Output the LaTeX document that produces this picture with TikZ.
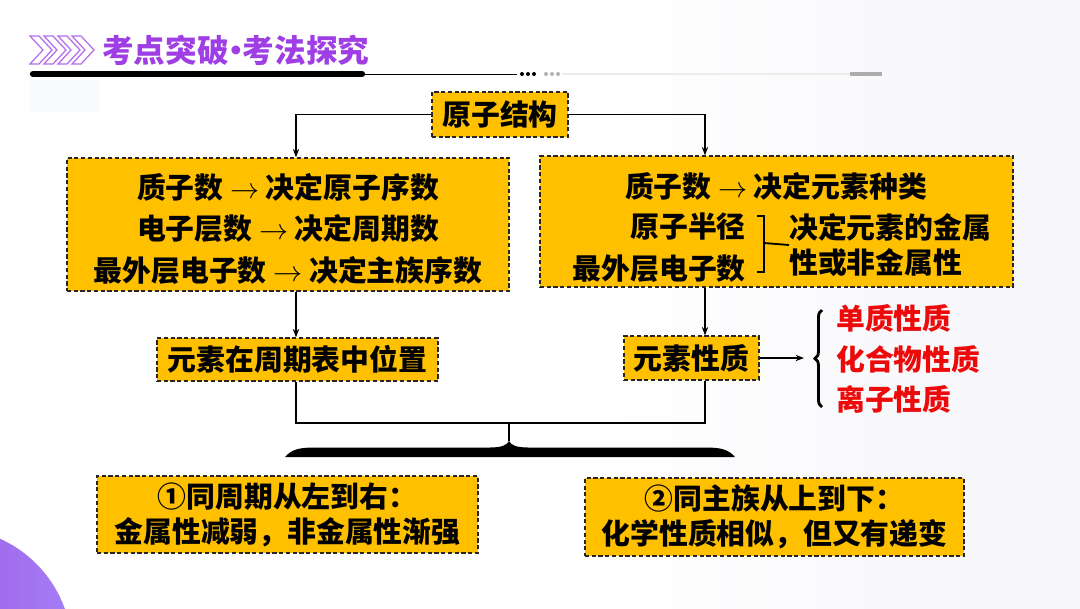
\documentclass[tikz,border=0pt]{standalone}
\usepackage{fontspec}
\setmainfont{Noto Sans CJK SC}
\usetikzlibrary{arrows.meta,decorations.pathreplacing}

\definecolor{boxfill}{RGB}{255,192,0}
\definecolor{headpurple}{RGB}{158,62,228}
\definecolor{propred}{RGB}{236,10,10}
\definecolor{blobleft}{RGB}{150,70,220}
\definecolor{blobright}{RGB}{165,125,245}
\definecolor{paleblue}{RGB}{248,250,253}

\tikzset{
  txt/.style={inner sep=0pt, font=\fontsize{20.5}{29.8}\selectfont\bfseries},
  dashbox/.style={txt, draw=black!85, fill=boxfill, dash pattern=on 3pt off 1.8pt,
    line width=0.9pt, align=center},
  conn/.style={line width=0.9pt},
  arr/.style={conn, -{Stealth[length=6pt,width=4.5pt]}}
}

\begin{document}
\begin{tikzpicture}[x=0.025cm, y=-0.025cm]
\useasboundingbox (0,0) rectangle (1080,608);

% background
\fill[white] (0,0) rectangle (1080,608);
\shade[left color=white, right color={rgb,255:red,245;green,245;blue,250}] (600,0) rectangle (1080,608);
\fill[paleblue] (30,80) rectangle (100,112);
\shade[left color=blobleft, right color=blobright] (-50,650) circle (122);

% heading
\foreach \cx in {30,44,58,72}
  \draw[headpurple!75, line width=0.9pt] (\cx,36) -- (\cx+9,36) -- (\cx+22,50) -- (\cx+9,64) -- (\cx,64) -- (\cx+13,50) -- cycle;
\node[txt, font=\fontsize{22.5}{26}\selectfont\bfseries, text=headpurple, anchor=west] (title) at (102,50)
  {考点突破\kern-0.28em•\kern-0.28em考法探究};
\draw[line width=4.5pt, line cap=round] (33,74) -- (362,74);
\draw[line width=0.6pt] (362,74) -- (517,74);
\foreach \dx in {522,528,534}
  \fill (\dx,74) circle (2);
\foreach \dx in {546,552,558}
  \fill[gray!60] (\dx,74) circle (2);
\draw[gray!15, line width=0.8pt] (562,74) -- (850,74);
\draw[gray!65, line width=2.5pt] (850,74) -- (882,74);

% top box
\node[dashbox, minimum width=3.4cm, minimum height=1.125cm] (struct) at (500,114.5) {原子结构};

% left big box
\node[dashbox, minimum width=11.05cm, minimum height=3.325cm] (numL) at (288,224.5) {};
\node[txt, align=center] (numLtext) at (288,229)
  {质子数 $\rightarrow$ 决定原子序数\\电子层数 $\rightarrow$ 决定周期数\\最外层电子数 $\rightarrow$ 决定主族序数};

% right big box
\node[dashbox, minimum width=11.825cm, minimum height=3.275cm] (numR) at (776.5,221.5) {};
\node[txt] (kind) at (776,186) {质子数 $\rightarrow$ 决定元素种类};
\node[txt, anchor=east] (radius) at (746,227) {原子半径};
\node[txt, anchor=east] (outer) at (746,269) {最外层电子数};
\node[txt, anchor=west, align=left, font=\fontsize{20.5}{25.5}\selectfont\bfseries] (metal) at (789,245)
  {决定元素的金属\\性或非金属性};
\draw[line width=1.3pt] (757,216) -- (764,216) -- (764,272) -- (757,272);
\draw[line width=1.3pt] (764,243) -- (metal.west);

% middle row
\node[dashbox, minimum width=7.025cm, minimum height=1.075cm] (pos) at (297.5,359.5) {元素在周期表中位置};
\node[dashbox, minimum width=3.375cm, minimum height=1.1cm] (prop) at (691.5,358) {元素性质};
\node[txt, text=propred, anchor=west, align=left, font=\fontsize{20.5}{29}\selectfont\bfseries] (props) at (836,359)
  {单质性质\\化合物性质\\离子性质};
\draw[decorate, decoration={brace, amplitude=5pt}, line width=2pt] (822,407) -- (822,310);

% bottom boxes
\node[dashbox, minimum width=9.525cm, minimum height=1.925cm, font=\fontsize{20.5}{24.8}\selectfont\bfseries] (rule1) at (287.5,514.5)
  {①同周期从左到右：\\金属性减弱，非金属性渐强};
\node[dashbox, minimum width=9.475cm, minimum height=1.95cm, font=\fontsize{20.5}{24.8}\selectfont\bfseries] (rule2) at (774.5,517)
  {②同主族从上到下：\\化学性质相似，但又有递变};

% connectors
\coordinate (lx) at (296,0);
\coordinate (rx) at (705,0);
\coordinate (join) at (509,423);
\coordinate (tip) at (509,441);
\coordinate (braceL) at (804,358);

\draw[arr] (struct.west) -| (numL.north -| lx);
\draw[arr] (struct.east) -| (numR.north -| rx);
\draw[arr] (numL.south -| lx) -- (pos.north -| lx);
\draw[arr] (numR.south -| rx) -- (prop.north -| rx);
\draw[arr] (prop.east) -- (braceL);
\draw[conn] (pos.south -| lx) -- (lx |- join) -- (rx |- join) -- (prop.south -| rx);
\draw[conn] (join) -- (tip);

% big brace
\fill (285,457) .. controls (292,449) and (300,447.5) .. (315,447.5) -- (490,447.5)
  .. controls (502,447.5) and (507,445) .. (tip)
  .. controls (511,445) and (516,447.5) .. (528,447.5) -- (705,447.5)
  .. controls (720,447.5) and (728,449) .. (735,457) -- cycle;

\end{tikzpicture}
\end{document}
